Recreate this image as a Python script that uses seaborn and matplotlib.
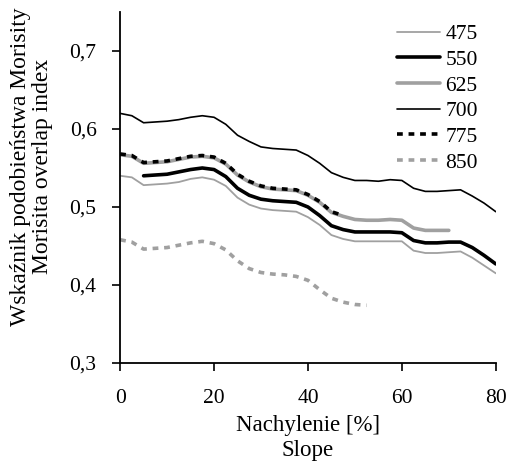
import numpy as np
import pandas as pd
import matplotlib
matplotlib.use('Agg')
import matplotlib.pyplot as plt
import seaborn as sns

# slope values [%]
slope = [0, 2.5, 5, 7.5, 10, 12.5, 15, 17.5, 20, 22.5, 25, 27.5, 30, 32.5, 35, 37.5,
         40, 42.5, 45, 47.5, 50, 52.5, 55, 57.5, 60, 62.5, 65, 67.5, 70, 72.5, 75, 77.5, 80]

nan = np.nan
v475 = [.540, .538, .528, .529, .530, .532, .536, .538, .535, .527, .512, .503, .498, .496, .495, .494,
        .487, .477, .464, .459, .456, .456, .456, .456, .456, .444, .441, .441, .442, .443, .435, .425, .415]
v550 = [nan, nan, .540, .541, .542, .545, .548, .550, .548, .539, .524, .515, .510, .508, .507, .506,
        .500, .489, .476, .471, .468, .468, .468, .468, .467, .457, .454, .454, .455, .455, .448, .438, .427]
v625 = [.567, .565, .556, .557, .558, .561, .564, .565, .563, .555, .541, .532, .526, .523, .522, .521,
        .515, .506, .493, .488, .484, .483, .483, .484, .483, .473, .470, .470, .470, nan, nan, nan, nan]
v700 = [.620, .617, .608, .609, .610, .612, .615, .617, .615, .606, .592, .584, .577, .575, .574, .573,
        .566, .556, .544, .538, .534, .534, .533, .535, .534, .524, .520, .520, .521, .522, .514, .505, .494]
v775 = [.568, .566, .557, .558, .559, .562, .565, .566, .564, .556, .542, .533, .527, .524, .523, .522,
        .516, .507, .494, .489, nan, nan, nan, nan, nan, nan, nan, nan, nan, nan, nan, nan, nan]
v850 = [.458, .455, .446, .447, .448, .451, .454, .456, .453, .445, .431, .421, .416, .414, .413, .411,
        .406, .394, .383, .378, .375, .374, nan, nan, nan, nan, nan, nan, nan, nan, nan, nan, nan]

series = {'475': v475, '550': v550, '625': v625, '700': v700, '775': v775, '850': v850}
styles = {
    '475': dict(color='#a0a0a0', linewidth=1.3),
    '550': dict(color='black', linewidth=2.6),
    '625': dict(color='#a0a0a0', linewidth=2.6),
    '700': dict(color='black', linewidth=1.2),
    '775': dict(color='black', linewidth=2.6, dashes=(1.6, 1.6)),
    '850': dict(color='#a0a0a0', linewidth=2.6, dashes=(1.6, 1.6)),
}

sns.set_style('ticks')
plt.rcParams['font.family'] = ['Liberation Serif', 'DejaVu Serif']
plt.rcParams['text.color'] = 'black'
plt.rcParams['axes.labelcolor'] = 'black'

fig = plt.figure(figsize=(5.09, 4.61), dpi=100)
ax = fig.add_axes([0.236, 0.2126, 0.738, 0.7614])

for name, vals in series.items():
    df = pd.DataFrame({'slope': slope, 'value': vals}).dropna()
    st = dict(styles[name])
    dashes = st.pop('dashes', None)
    sns.lineplot(data=df, x='slope', y='value', ax=ax, label=name, **st)
    if dashes is not None:
        ax.lines[-1].set_dashes(dashes)
        ax.lines[-1].set_dash_capstyle('butt')

ax.set_xlim(0, 80)
ax.set_ylim(0.3, 0.75)
ax.set_xticks([0, 20, 40, 60, 80])
ax.set_yticks([0.3, 0.4, 0.5, 0.6, 0.7])
ax.set_yticklabels(['0,3', '0,4', '0,5', '0,6', '0,7'])
ax.tick_params(labelsize=15.5, length=6, width=1.2, colors='black')
ax.tick_params(axis='x', pad=13)
ax.tick_params(axis='y', pad=11)
for s in ['left', 'bottom']:
    ax.spines[s].set_linewidth(1.3)
    ax.spines[s].set_color('black')
sns.despine(ax=ax)

ax.set_xlabel('Nachylenie [%]\nSlope', fontsize=16.5, linespacing=1.25, labelpad=5)
ax.set_ylabel('Wskaźnik podobieństwa Morisity\nMorisita overlap index', fontsize=17, linespacing=1.1)
ax.yaxis.set_label_coords(-0.178, 0.56)

leg = ax.legend(loc='upper right', bbox_to_anchor=(0.975, 0.99), frameon=False, fontsize=15.5,
                handlelength=2.0, handletextpad=0.25, labelspacing=0.26, borderaxespad=0)
for t in leg.get_texts():
    t.set_color('black')

fig.savefig('out.png', dpi=100)
